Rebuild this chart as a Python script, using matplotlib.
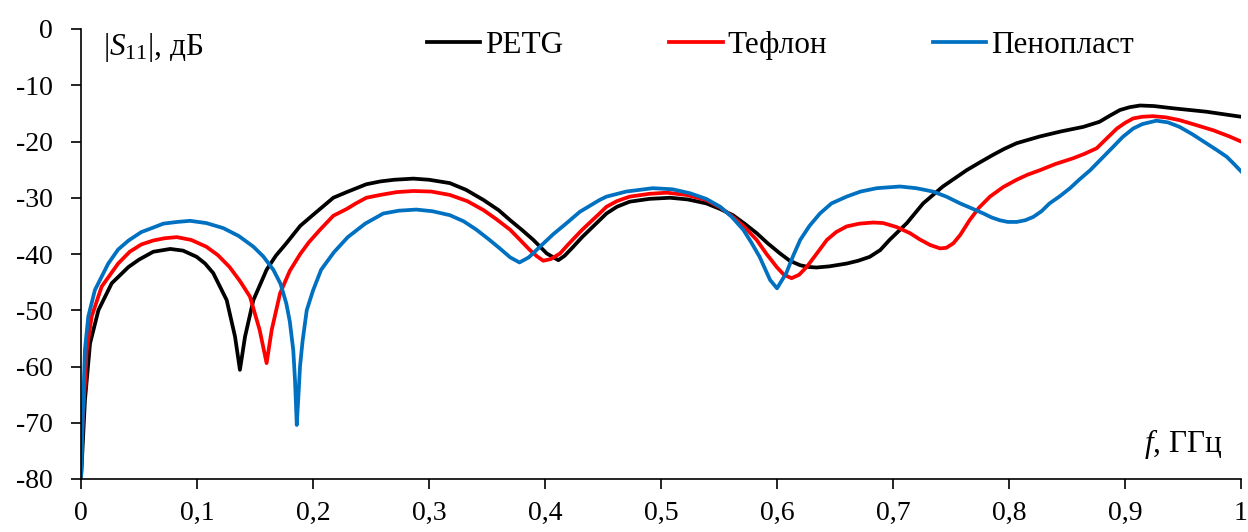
import matplotlib
matplotlib.use("Agg")
import matplotlib.pyplot as plt

# |S11| (дБ) vs f (ГГц)
petg = [(0, -80), (0.0034, -66), (0.0078, -55.9), (0.015, -50.0), (0.0265, -45.2),
        (0.041, -42.3), (0.05, -41.0), (0.0623, -39.6), (0.077, -39.1), (0.088, -39.4),
        (0.0997, -40.5), (0.107, -41.7), (0.114, -43.4), (0.1256, -48.2), (0.1328, -54.7),
        (0.137, -60.6), (0.1414, -54.7), (0.1486, -48.2), (0.160, -42.8), (0.168, -40.3),
        (0.177, -38.1), (0.189, -35.0), (0.2003, -33.0), (0.2175, -30.0), (0.229, -29.0),
        (0.246, -27.6), (0.258, -27.1), (0.27, -26.8), (0.2865, -26.6), (0.30, -26.8),
        (0.318, -27.4), (0.332, -28.6), (0.347, -30.4), (0.36, -32.2), (0.370, -34.0),
        (0.38, -35.7), (0.390, -37.5), (0.4015, -39.9), (0.4115, -41.1), (0.417, -40.3),
        (0.4244, -38.7), (0.432, -37.0), (0.447, -34.0), (0.453, -32.8), (0.462, -31.6),
        (0.473, -30.7), (0.49, -30.2), (0.5078, -30.0), (0.523, -30.3), (0.539, -31.0),
        (0.551, -32.0), (0.562, -33.1), (0.572, -34.6), (0.5825, -36.3), (0.592, -38.1),
        (0.6026, -39.9), (0.611, -41.2), (0.620, -42.0), (0.627, -42.3), (0.634, -42.4),
        (0.645, -42.2), (0.660, -41.7), (0.67, -41.2), (0.680, -40.5), (0.689, -39.3),
        (0.697, -37.5), (0.712, -34.5), (0.726, -31.0), (0.743, -28.0), (0.7635, -25.1),
        (0.775, -23.7), (0.786, -22.4), (0.796, -21.3), (0.8066, -20.3), (0.8267, -19.1),
        (0.845, -18.2), (0.864, -17.4), (0.878, -16.5), (0.887, -15.4), (0.8957, -14.4),
        (0.904, -13.9), (0.913, -13.6), (0.925, -13.7), (0.9416, -14.1), (0.970, -14.7),
        (1.0, -15.6)]

teflon = [(0, -80), (0.001, -71.8), (0.005, -57), (0.0092, -51.1), (0.0178, -45.8),
          (0.032, -41.7), (0.042, -39.6), (0.052, -38.3), (0.0623, -37.6), (0.072, -37.2),
          (0.0825, -37.0), (0.095, -37.5), (0.108, -38.7), (0.118, -40.2), (0.128, -42.3),
          (0.137, -44.8), (0.1457, -47.6), (0.154, -53.5), (0.160, -59.4), (0.1644, -53.5),
          (0.1716, -47.0), (0.180, -43.0), (0.189, -40.0), (0.1965, -37.9), (0.206, -35.7),
          (0.2175, -33.2), (0.229, -32.0), (0.237, -31.0), (0.246, -30.0), (0.258, -29.5),
          (0.272, -29.0), (0.2865, -28.8), (0.302, -28.9), (0.318, -29.5), (0.333, -30.6),
          (0.347, -32.2), (0.358, -33.8), (0.370, -35.7), (0.379, -37.6), (0.387, -39.3),
          (0.393, -40.4), (0.3985, -41.2), (0.405, -40.9), (0.413, -39.9), (0.42, -38.3),
          (0.432, -35.7), (0.447, -32.8), (0.453, -31.6), (0.462, -30.6), (0.473, -29.8),
          (0.49, -29.3), (0.505, -29.1), (0.522, -29.5), (0.539, -30.4), (0.551, -31.7),
          (0.562, -33.4), (0.572, -35.2), (0.5825, -37.5), (0.591, -40.0), (0.5997, -42.3),
          (0.606, -43.7), (0.6126, -44.3), (0.619, -43.7), (0.6256, -42.3), (0.634, -40.0),
          (0.643, -37.5), (0.651, -36.1), (0.660, -35.1), (0.671, -34.6), (0.683, -34.4),
          (0.6916, -34.5), (0.703, -35.2), (0.7147, -36.3), (0.723, -37.4), (0.732, -38.4),
          (0.7405, -39.0), (0.746, -38.9), (0.752, -38.1), (0.758, -36.6), (0.766, -34.0),
          (0.774, -31.8), (0.7836, -29.8), (0.795, -28.1), (0.8066, -26.8), (0.816, -25.9),
          (0.8267, -25.1), (0.84, -24.0), (0.855, -23.0), (0.865, -22.2), (0.8756, -21.2),
          (0.884, -19.5), (0.893, -17.7), (0.9, -16.7), (0.907, -15.9), (0.915, -15.6),
          (0.924, -15.5), (0.935, -15.7), (0.947, -16.2), (0.96, -17.0), (0.976, -18.0),
          (0.99, -19.1), (1.0, -20.0)]

foam = [(0, -80), (0.002, -66), (0.0034, -57), (0.0063, -51.1), (0.012, -46.4),
        (0.0235, -41.7), (0.032, -39.2), (0.041, -37.6), (0.052, -36.1), (0.0623, -35.3),
        (0.071, -34.6), (0.083, -34.3), (0.094, -34.1), (0.108, -34.5), (0.1227, -35.4),
        (0.136, -36.8), (0.1486, -38.7), (0.157, -40.4), (0.1658, -42.8), (0.172, -45.3),
        (0.177, -48.8), (0.180, -52.0), (0.183, -57.1), (0.1845, -62.5), (0.186, -70.4),
        (0.1875, -65.0), (0.1888, -60.0), (0.191, -55.5), (0.1946, -50.0), (0.200, -46.5),
        (0.207, -42.8), (0.218, -39.7), (0.23, -37.0), (0.245, -34.6), (0.2606, -32.8),
        (0.274, -32.3), (0.289, -32.1), (0.303, -32.4), (0.318, -33.1), (0.33, -34.2),
        (0.341, -35.7), (0.351, -37.3), (0.361, -39.0), (0.37, -40.6), (0.378, -41.5),
        (0.386, -40.6), (0.3957, -38.7), (0.407, -36.5), (0.4187, -34.5), (0.430, -32.5),
        (0.447, -30.4), (0.453, -29.8), (0.47, -28.9), (0.493, -28.3), (0.51, -28.5),
        (0.525, -29.2), (0.539, -30.2), (0.551, -31.6), (0.561, -33.4), (0.571, -35.7),
        (0.578, -38.0), (0.585, -40.5), (0.594, -44.6), (0.600, -46.1), (0.608, -43.4),
        (0.614, -40.3), (0.620, -37.5), (0.628, -35.0), (0.637, -32.8), (0.647, -31.0),
        (0.660, -29.8), (0.672, -28.9), (0.686, -28.3), (0.706, -28.0), (0.72, -28.3),
        (0.7345, -28.9), (0.746, -29.8), (0.7578, -31.0), (0.768, -31.9), (0.778, -32.8),
        (0.785, -33.5), (0.792, -34.0), (0.799, -34.3), (0.8066, -34.3), (0.814, -34.0),
        (0.821, -33.4), (0.828, -32.4), (0.835, -31.0), (0.844, -29.7), (0.8526, -28.3),
        (0.861, -26.7), (0.870, -25.1), (0.88, -23.0), (0.890, -20.9), (0.898, -19.2),
        (0.907, -17.7), (0.915, -16.9), (0.927, -16.3), (0.937, -16.6), (0.947, -17.4),
        (0.958, -18.7), (0.970, -20.3), (0.979, -21.5), (0.9876, -22.7), (0.994, -24.0),
        (1.0, -25.3)]

x_ticks = [0, 0.1, 0.2, 0.3, 0.4, 0.5, 0.6, 0.7, 0.8, 0.9, 1.0]
x_labels = ["0", "0,1", "0,2", "0,3", "0,4", "0,5", "0,6", "0,7", "0,8", "0,9", "1"]
y_ticks = [0, -10, -20, -30, -40, -50, -60, -70, -80]
y_labels = ["0", "-10", "-20", "-30", "-40", "-50", "-60", "-70", "-80"]

plt.rcParams["font.family"] = ["Liberation Serif", "DejaVu Serif"]
plt.rcParams["mathtext.fontset"] = "custom"
plt.rcParams["mathtext.rm"] = "Liberation Serif"
plt.rcParams["mathtext.it"] = "Liberation Serif:italic"
FS_TICK = 20
FS_TXT = 22.5

fig = plt.figure(figsize=(12.48, 5.32), dpi=100)
ax = fig.add_axes([81 / 1248, 1 - 479 / 532, 1160 / 1248, 450 / 532])

for data, col, lab in ((petg, "black", "PETG"),
                       (teflon, "#ff0000", "Тефлон"),
                       (foam, "#0070c0", "Пенопласт")):
    f, s = zip(*data)
    ax.plot(f, s, color=col, lw=2.7, label=lab, solid_joinstyle="round")

ax.set_xlim(0, 1); ax.set_ylim(-80, 0)
ax.set_xticks(x_ticks); ax.set_xticklabels(x_labels)
ax.set_yticks(y_ticks); ax.set_yticklabels(y_labels)
ax.spines["top"].set_visible(False); ax.spines["right"].set_visible(False)
for sp in ("left", "bottom"):
    ax.spines[sp].set_linewidth(1.2)
ax.tick_params(axis="both", direction="out", length=7, width=1.2, labelsize=FS_TICK)
ax.tick_params(axis="x", pad=9)
ax.tick_params(axis="y", pad=13.5)

ax.text(0.019, 0.995, r"$|S_{11}|$, дБ", transform=ax.transAxes, fontsize=FS_TXT,
        ha="left", va="top")
ax.text(0.984, 0.06, r"$f$, ГГц", transform=ax.transAxes, fontsize=FS_TXT,
        ha="right", va="baseline")

ax.legend(loc="center", bbox_to_anchor=(0.603, 0.964), ncol=3, frameon=False,
          fontsize=FS_TXT, handlelength=1.7, handletextpad=0.15, columnspacing=3.4,
          borderpad=0, borderaxespad=0)

fig.savefig("out.png", dpi=100)
